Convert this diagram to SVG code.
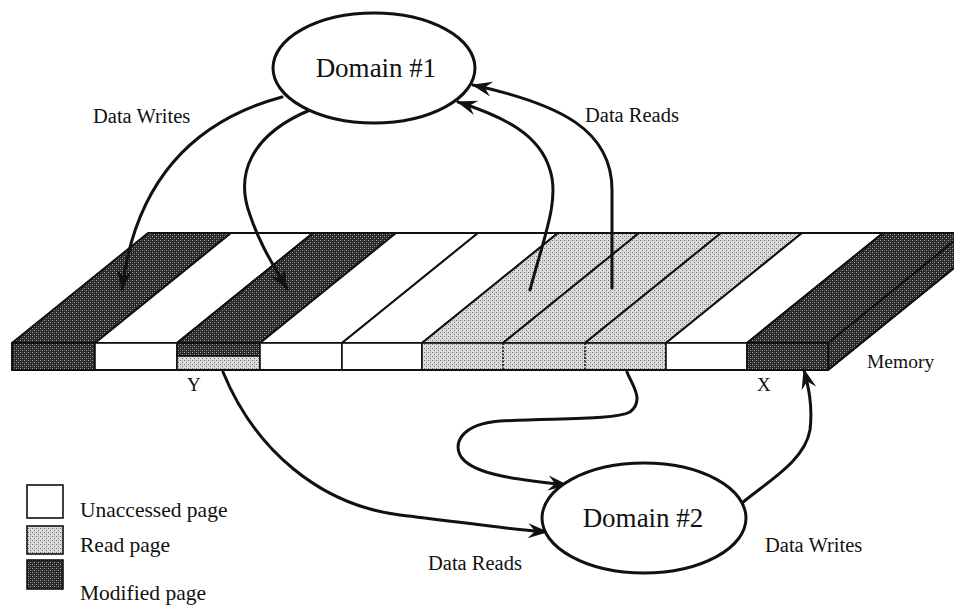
<svg xmlns="http://www.w3.org/2000/svg" width="954" height="608" viewBox="0 0 954 608">
  <style>
    .lbl { font-family: "Liberation Serif", "Times New Roman", serif; fill: #111; }
    .node-text { font-size: 27px; }
    .edge-text { font-size: 20.5px; }
    .legend-text { font-size: 21.5px; }
    .mem-text { font-size: 19.5px; }
    .small { font-size: 19px; }
    .outline { stroke: #111; stroke-width: 2; stroke-linejoin: round; }
    .thin { stroke: #111; stroke-width: 1.6; }
    .edge { fill: none; stroke: #111; stroke-width: 3; stroke-linecap: round; marker-end: url(#barb); }
    .ellipse { fill: #fff; stroke: #111; stroke-width: 3; }
    .white { fill: #fff; }
    .mod { fill: url(#modified); }
    .read { fill: url(#readp); }
  </style>
  <defs>
    <!-- dense dark stipple for modified pages -->
    <pattern id="modified" width="4" height="4" patternUnits="userSpaceOnUse">
      <rect width="4" height="4" fill="#262626"/>
      <rect x="0" y="0" width="1" height="1" fill="#a8a8a8"/>
      <rect x="2" y="2" width="1" height="1" fill="#a8a8a8"/>
      <rect x="2" y="0" width="1" height="1" fill="#5a5a5a"/>
      <rect x="0" y="2" width="1" height="1" fill="#5a5a5a"/>
    </pattern>
    <!-- light stipple for read pages -->
    <pattern id="readp" width="4" height="4" patternUnits="userSpaceOnUse">
      <rect width="4" height="4" fill="#dcdcdc"/>
      <rect x="0" y="0" width="1" height="1" fill="#6e6e6e"/>
      <rect x="2" y="2" width="1" height="1" fill="#6e6e6e"/>
      <rect x="2" y="0" width="1" height="1" fill="#b0b0b0"/>
    </pattern>
    <marker id="barb" viewBox="-21 -9 23 18" refX="0" refY="0" markerWidth="23" markerHeight="18" markerUnits="userSpaceOnUse" orient="auto">
      <path d="M1.5,0 L-19,-7.5 L-12,0 L-19,7.5 Z" fill="#111"/>
    </marker>
  </defs>

  <rect width="954" height="608" fill="#fff"/>

  <!-- Memory slab: top face stripes (front edge y=343, back edge y=233, shear +136) -->
  <g id="memory">
    <g id="top-face" class="outline">
      <polygon class="mod"   points="12,343 95,343 231,233 148,233"/>
      <polygon class="white" points="95,343 177,343 313,233 231,233"/>
      <polygon class="mod"   points="177,343 260,343 396,233 313,233"/>
      <polygon class="white" points="260,343 342,343 478,233 396,233"/>
      <polygon class="white" points="342,343 422,343 558,233 478,233"/>
      <polygon class="read"  points="422,343 503,343 639,233 558,233"/>
      <polygon class="read"  points="503,343 585,343 721,233 639,233"/>
      <polygon class="read"  points="585,343 666,343 802,233 721,233"/>
      <polygon class="white" points="666,343 747,343 883,233 802,233"/>
      <polygon class="mod"   points="747,343 828,343 964,233 883,233"/>
    </g>
    <!-- right end face -->
    <polygon class="mod outline" points="828,343 964,233 964,260 828,370"/>
    <!-- front face pages -->
    <g id="front-face" class="thin">
      <rect class="mod"   x="12"  y="343" width="83" height="27"/>
      <rect class="white" x="95"  y="343" width="82" height="27"/>
      <rect class="mod"   x="177" y="343" width="83" height="13"/>
      <rect class="read"  x="177" y="356" width="83" height="14"/>
      <rect class="white" x="260" y="343" width="82" height="27"/>
      <rect class="white" x="342" y="343" width="80" height="27"/>
      <rect class="read"  x="422" y="343" width="244" height="27"/>
      <rect class="white" x="666" y="343" width="81" height="27"/>
      <rect class="mod"   x="747" y="343" width="81" height="27"/>
    </g>
    <g class="thin" fill="none">
      <line x1="503" y1="343" x2="503" y2="370" stroke-dasharray="2 1.5"/>
      <line x1="585" y1="343" x2="585" y2="370" stroke-dasharray="2 1.5"/>
    </g>
    <polyline class="outline" fill="none" points="12,343 12,370 828,370 964,260"/>
    <line class="outline" x1="148" y1="233" x2="964" y2="233"/>
    <text class="lbl small" x="187" y="391">Y</text>
    <text class="lbl small" x="757" y="391">X</text>
    <text class="lbl mem-text" x="867" y="368">Memory</text>
  </g>

  <!-- data flows -->
  <g id="connectors">
    <path class="edge" d="M282,97 C190,122 135,185 122,289"/>
    <path class="edge" d="M310,110 C250,135 235,175 250,215 C260,245 274,266 287,289"/>
    <path class="edge" d="M530,290 C543,240 560,200 550,170 C540,135 505,117 458,102"/>
    <path class="edge" d="M612,288 L612,190 C612,130 560,104 473,85"/>
    <path class="edge" d="M223,372 C255,450 320,505 400,515 C460,522 505,529 547,532"/>
    <path class="edge" d="M627,372 C632,385 645,400 630,412 C615,420 560,418 500,421 C460,424 452,445 462,458 C475,475 520,480 567,485"/>
    <path class="edge" d="M742,503 C770,480 805,460 810,430 C813,405 808,385 804,370"/>
  </g>

  <g id="domain1">
    <ellipse class="ellipse" cx="374" cy="68" rx="101" ry="55"/>
    <text class="lbl node-text" x="376" y="77" text-anchor="middle">Domain #1</text>
  </g>
  <g id="domain2">
    <ellipse class="ellipse" cx="644" cy="518" rx="102" ry="55"/>
    <text class="lbl node-text" x="643" y="527" text-anchor="middle">Domain #2</text>
  </g>

  <g id="edge-labels">
    <text class="lbl edge-text" x="93" y="123">Data Writes</text>
    <text class="lbl edge-text" x="585" y="122">Data Reads</text>
    <text class="lbl edge-text" x="428" y="570">Data Reads</text>
    <text class="lbl edge-text" x="765" y="552">Data Writes</text>
  </g>

  <g id="legend">
    <rect class="white thin" x="27" y="485" width="36" height="33"/>
    <text class="lbl legend-text" x="80" y="517">Unaccessed page</text>
    <rect class="read thin" x="27" y="526" width="36" height="28"/>
    <text class="lbl legend-text" x="80" y="552">Read page</text>
    <rect class="mod thin" x="27" y="560" width="36" height="29"/>
    <text class="lbl legend-text" x="80" y="600">Modified page</text>
  </g>
</svg>
